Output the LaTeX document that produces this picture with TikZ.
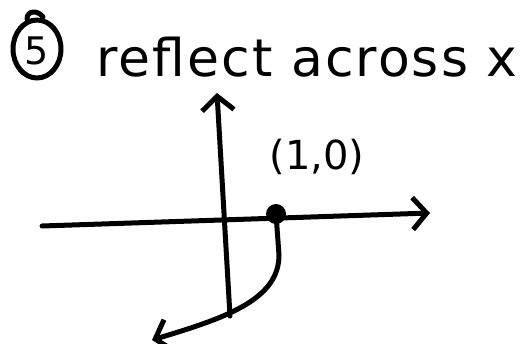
\documentclass[tikz,border=0pt]{standalone}
\usepackage{fontspec}
\setmainfont{DejaVu Sans}
\usetikzlibrary{arrows.meta}
\begin{document}
\begin{tikzpicture}[x=1pt,y=-1pt,
  ink/.style={line width=5pt,line cap=round,line join=round},
  barb/.style={-{Straight Barb[length=14pt,width=32pt,line width=5pt]}},
  lbl/.style={inner sep=0pt,font=\fontsize{52}{52}\selectfont}]
\useasboundingbox (0,0) rectangle (527,343);
% heading
\draw[ink] (37,49) ellipse [x radius=24,y radius=29];
\draw[ink] (27,19) .. controls (27,10) and (38,10) .. (43,17);
\node[lbl,font=\fontsize{38}{38}\selectfont] (five) at (37,51) {5};
\node[lbl,anchor=base west] (title) at (96,76) {\addfontfeature{LetterSpace=4}reflect across x};
% axes
\coordinate (xl) at (42,226);
\coordinate (xr) at (430,213);
\coordinate (yb) at (230,316);
\coordinate (yt) at (217,93);
\draw[ink,barb] (xl) -- (xr);
\draw[ink,barb] (yb) -- (yt);
% point
\node[circle,fill=black,minimum size=20pt,inner sep=0pt] (pt) at (276,214) {};
\node[lbl,font=\fontsize{40}{40}\selectfont] (ptl) at (317,157) {(1,0)};
% reflected curve
\coordinate (ce) at (152,340);
\draw[ink,barb] (pt.center) -- (279,255) .. controls (279,300) and (225,318) .. (ce);
\end{tikzpicture}
\end{document}
